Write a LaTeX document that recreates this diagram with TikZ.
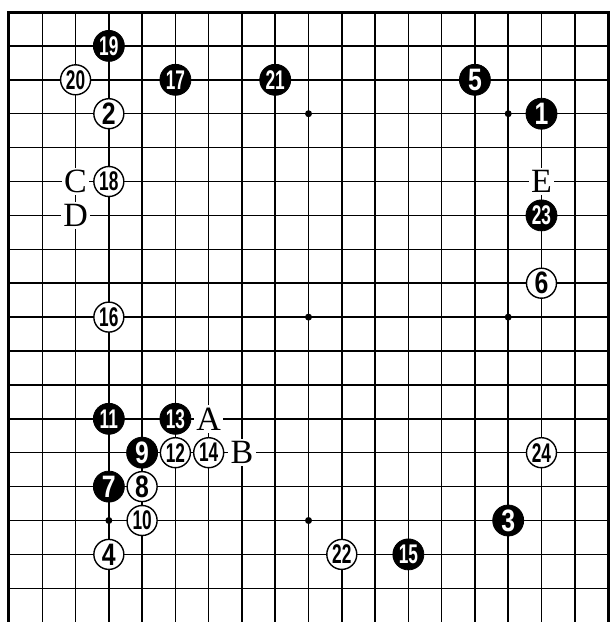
\documentclass[tikz,border=0pt]{standalone}
\usepackage{graphicx}
\usepackage{fontspec}
\setmainfont{Liberation Serif}
\newfontfamily\numfont{Liberation Sans}
\newcommand\StoneOne[1]{\scalebox{0.8}[1]{\numfont\bfseries\fontsize{31bp}{31bp}\selectfont #1}}
\newcommand\StoneTwo[1]{\scalebox{0.64}[1]{\numfont\bfseries\fontsize{27bp}{27bp}\selectfont #1}}
\tikzset{
  gridline/.style={line width=1.5bp, black},
  borderline/.style={line width=3bp, black},
  bstone/.style={circle, fill=black, draw=black, line width=0.8bp, minimum size=31bp, inner sep=0pt, text=white},
  wstone/.style={circle, fill=white, draw=black, line width=1.4bp, minimum size=30bp, inner sep=0pt, text=black},
  letterlab/.style={fill=white, inner sep=2.5bp, font=\fontsize{34bp}{34bp}\selectfont},
  starpt/.style={circle, fill=black, inner sep=0pt, minimum size=7bp},
}
\begin{document}
\begin{tikzpicture}[x=33.28bp, y=-33.9bp]
\useasboundingbox (-0.2704,-0.354) rectangle (18.119,17.994);
% grid
\foreach \c in {1,...,17} \draw[gridline] (\c,0) -- (\c,17.994);
\foreach \r in {1,...,17} \draw[gridline] (0,\r) -- (18,\r);
\draw[borderline] (0,17.994) -- (0,0) -- (18,0) -- (18,17.994);
% star points
\foreach \p/\c/\r in {s1/9/3, s2/15/3, s3/9/9, s4/15/9, s5/3/15, s6/9/15}
  \node[starpt] (\p) at (\c,\r) {};
% black stones
\node[bstone] (b1)  at (16,3)  {\StoneOne{1}};
\node[bstone] (b3)  at (15,15) {\StoneOne{3}};
\node[bstone] (b5)  at (14,2)  {\StoneOne{5}};
\node[bstone] (b7)  at (3,14)  {\StoneOne{7}};
\node[bstone] (b9)  at (4,13)  {\StoneOne{9}};
\node[bstone] (b11) at (3,12)  {\StoneTwo{11}};
\node[bstone] (b13) at (5,12)  {\StoneTwo{13}};
\node[bstone] (b15) at (12,16) {\StoneTwo{15}};
\node[bstone] (b17) at (5,2)   {\StoneTwo{17}};
\node[bstone] (b19) at (3,1)   {\StoneTwo{19}};
\node[bstone] (b21) at (8,2)   {\StoneTwo{21}};
\node[bstone] (b23) at (16,6)  {\StoneTwo{23}};
% white stones
\node[wstone] (w2)  at (3,3)   {\StoneOne{2}};
\node[wstone] (w4)  at (3,16)  {\StoneOne{4}};
\node[wstone] (w6)  at (16,8)  {\StoneOne{6}};
\node[wstone] (w8)  at (4,14)  {\StoneOne{8}};
\node[wstone] (w10) at (4,15)  {\StoneTwo{10}};
\node[wstone] (w12) at (5,13)  {\StoneTwo{12}};
\node[wstone] (w14) at (6,13)  {\StoneTwo{14}};
\node[wstone] (w16) at (3,9)   {\StoneTwo{16}};
\node[wstone] (w18) at (3,5)   {\StoneTwo{18}};
\node[wstone] (w20) at (2,2)   {\StoneTwo{20}};
\node[wstone] (w22) at (10,16) {\StoneTwo{22}};
\node[wstone] (w24) at (16,13) {\StoneTwo{24}};
% letters
\node[letterlab] (lA) at (6,12) {A};
\node[letterlab] (lB) at (7,13) {B};
\node[letterlab] (lC) at (2,5)  {C};
\node[letterlab] (lD) at (2,6)  {D};
\node[letterlab] (lE) at (16,5) {E};
\end{tikzpicture}
\end{document}
